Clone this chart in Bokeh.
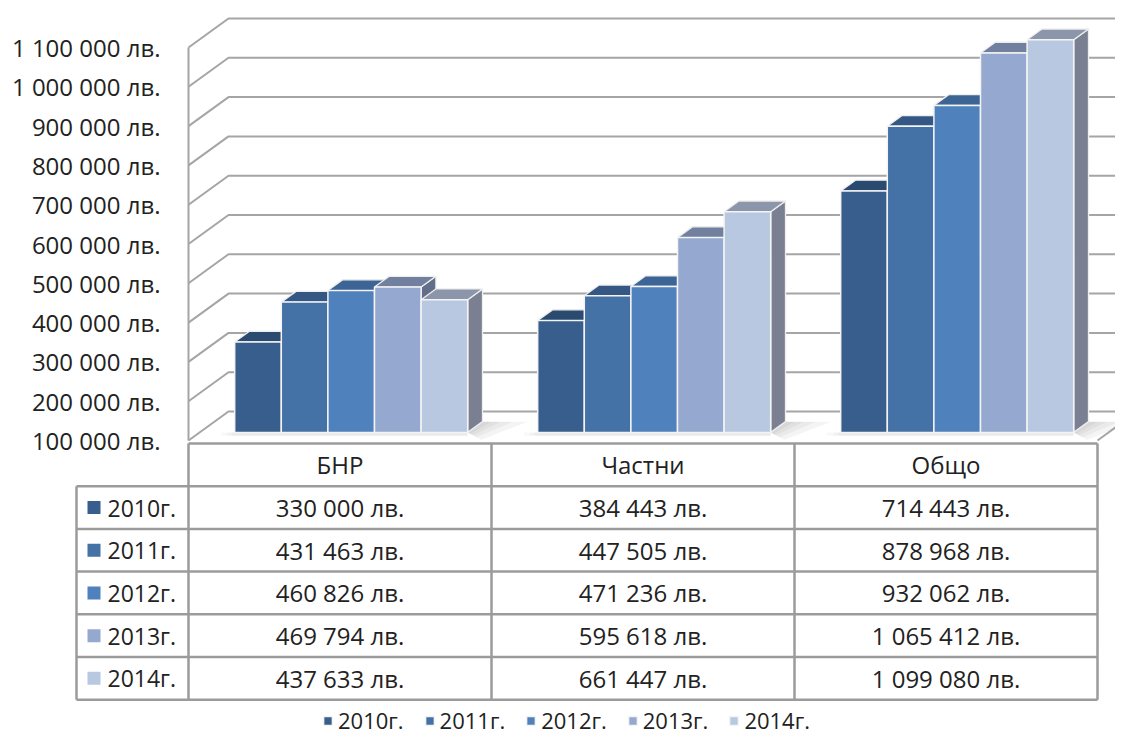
from bokeh.plotting import figure
from bokeh.models import Range1d, Legend, LegendItem
from bokeh.core.properties import value
from bokeh.embed import file_html
from bokeh.resources import INLINE

# ---------------- data ----------------
categories = ["БНР", "Частни", "Общо"]
series_names = ["2010г.", "2011г.", "2012г.", "2013г.", "2014г."]
values_2010 = [330000, 384443, 714443]
values_2011 = [431463, 447505, 878968]
values_2012 = [460826, 471236, 932062]
values_2013 = [469794, 595618, 1065412]
values_2014 = [437633, 661447, 1099080]
series_values = [values_2010, values_2011, values_2012, values_2013, values_2014]
y_ticks = [100000, 200000, 300000, 400000, 500000, 600000,
           700000, 800000, 900000, 1000000, 1100000]
y_tick_labels = ["100 000 лв.", "200 000 лв.", "300 000 лв.", "400 000 лв.",
                 "500 000 лв.", "600 000 лв.", "700 000 лв.", "800 000 лв.",
                 "900 000 лв.", "1 000 000 лв.", "1 100 000 лв."]

# ---------------- styles ----------------
front_colors = ["#375E8C", "#4471A6", "#4F81BD", "#95A9D0", "#B9C8E1"]
top_colors = ["#2B4A70", "#345783", "#3C6494", "#71809E", "#8C96AA"]
side_colors = ["#243E5E", "#2E4B70", "#34567E", "#636F8A", "#7A8091"]
grid_color = "#A5A5A5"
table_color = "#9B9B9B"
text_color = "#222222"
FONT = value("Open Sans")

# ---------------- geometry ----------------
W, H = 1115, 735
X0_REF, CW_REF, Y100_REF, PX100K = 188.0, 303.0, 440.0, 39.3
UY = 100000.0 / PX100K          # value units per pixel


def rx(px):
    return (px - X0_REF) / CW_REF


def ry(py):
    return 100000 + (Y100_REF - py) * UY


DX = 40.0 / CW_REF               # depth offset (x, category units)
DY = 29.0 * UY                   # depth offset (y, value units)
D0, D1 = 0.28, 0.65              # bar depth range
BAR_W = 0.769 / 5
GAP = (1 - 5 * BAR_W) / 2
BASE = y_ticks[0]
NCAT = len(categories)

p = figure(width=W, height=H, output_backend="svg", toolbar_location=None,
           x_range=Range1d(rx(0), rx(W)), y_range=Range1d(ry(H), ry(0)),
           x_axis_type=None, y_axis_type=None, min_border=0,
           outline_line_color=None, background_fill_color="white",
           border_fill_color="white")
p.grid.visible = False

# walls / gridlines
p.multi_line(xs=[[0, DX, NCAT + DX + 0.3] for v in y_ticks],
             ys=[[v, v + DY, v + DY] for v in y_ticks],
             line_color=grid_color, line_width=2)
p.line(x=[0, 0], y=[y_ticks[0], y_ticks[-1]], line_color=grid_color, line_width=2)
p.line(x=[NCAT, NCAT + DX], y=[BASE, BASE + DY], line_color=grid_color, line_width=2)

# floor shadows
for i in range(NCAT):
    xr = i + GAP + 5 * BAR_W
    xl = i + GAP
    for s in [0.03, 0.06, 0.1, 0.15]:
        p.patch(x=[xr + D0 * DX, xr + D1 * DX, xr + D1 * DX + s, xr + D0 * DX + s * 0.3],
                y=[BASE + D0 * DY, BASE + D1 * DY, BASE + D1 * DY, BASE + D0 * DY - 0.25 * DY * s / 0.15],
                fill_color="#808080", fill_alpha=0.09, line_color=None)
    for s in [0.01, 0.025, 0.045]:
        p.patch(x=[xl + D0 * DX - s, xr + D0 * DX, xr + D0 * DX, xl + D0 * DX - s],
                y=[BASE + D0 * DY, BASE + D0 * DY, BASE + D0 * DY - 0.12 * DY,
                   BASE + D0 * DY - 0.12 * DY],
                fill_color="#909090", fill_alpha=0.06, line_color=None)

# bars
front_renderers = []
for j, vals in enumerate(series_values):
    fx, fy, tx, ty, sx, sy = [], [], [], [], [], []
    for i, v in enumerate(vals):
        x0 = i + GAP + j * BAR_W
        x1 = x0 + BAR_W
        a0, b0 = D0 * DX, D0 * DY
        a1, b1 = D1 * DX, D1 * DY
        fx.append([x0 + a0, x1 + a0, x1 + a0, x0 + a0])
        fy.append([BASE + b0, BASE + b0, v + b0, v + b0])
        tx.append([x0 + a0, x1 + a0, x1 + a1, x0 + a1])
        ty.append([v + b0, v + b0, v + b1, v + b1])
        sx.append([x1 + a0, x1 + a1, x1 + a1, x1 + a0])
        sy.append([BASE + b0, BASE + b1, v + b1, v + b0])
    p.patches(xs=sx, ys=sy, fill_color=side_colors[j], line_color="#EEEEEE",
              line_width=1.3)
    p.patches(xs=tx, ys=ty, fill_color=top_colors[j], line_color="#EEEEEE",
              line_width=1.3)
    r = p.patches(xs=fx, ys=fy, fill_color=front_colors[j], line_color="#F4F4F4",
                  line_width=1.5)
    front_renderers.append(r)

# y labels
p.text(x=[rx(160)] * len(y_ticks), y=y_ticks, text=y_tick_labels,
       text_font=FONT, text_font_size="24px", text_color=text_color,
       text_align="right", text_baseline="middle")

# data table
header_top = ry(443)
row_edges = [ry(485.7 + k * 42.7) for k in range(len(series_names) + 1)]
leg_left = rx(76)
lx, ly = [], []
lx.append([0, NCAT]); ly.append([header_top, header_top])
for e in row_edges:
    lx.append([leg_left, NCAT]); ly.append([e, e])
for i in range(NCAT + 1):
    lx.append([i, i]); ly.append([header_top, row_edges[-1]])
lx.append([leg_left, leg_left]); ly.append([row_edges[0], row_edges[-1]])
p.multi_line(xs=lx, ys=ly, line_color=table_color, line_width=2.5)

p.text(x=[i + 0.5 for i in range(NCAT)], y=[(header_top + row_edges[0]) / 2] * NCAT,
       text=categories, text_font=FONT, text_font_size="24px", text_color=text_color,
       text_align="center", text_baseline="middle")

for j, vals in enumerate(series_values):
    yc = (row_edges[j] + row_edges[j + 1]) / 2
    labels = [f"{v:,}".replace(",", " ") + " лв." for v in vals]
    p.text(x=[i + 0.5 for i in range(NCAT)], y=[yc] * NCAT, text=labels,
           text_font=FONT, text_font_size="24px", text_color=text_color,
           text_align="center", text_baseline="middle")
    p.scatter(x=[rx(93.5)], y=[yc], marker="square", size=13,
              fill_color=front_colors[j], line_color=None)
    p.text(x=[rx(107)], y=[yc], text=[series_names[j]], text_font=FONT,
           text_font_size="23px", text_color=text_color, text_align="left",
           text_baseline="middle")

# bottom legend
legend = Legend(items=[LegendItem(label=series_names[j], renderers=[front_renderers[j]])
                       for j in range(len(series_names))],
                orientation="horizontal", location=(322, 0),
                glyph_width=11, glyph_height=11, label_standoff=5, spacing=20,
                padding=0, margin=0, label_height=22,
                label_text_font="Open Sans", label_text_font_size="22px",
                label_text_color=text_color, border_line_alpha=0,
                background_fill_alpha=0)
p.add_layout(legend)

open("out.html", "w").write(file_html(p, INLINE))
